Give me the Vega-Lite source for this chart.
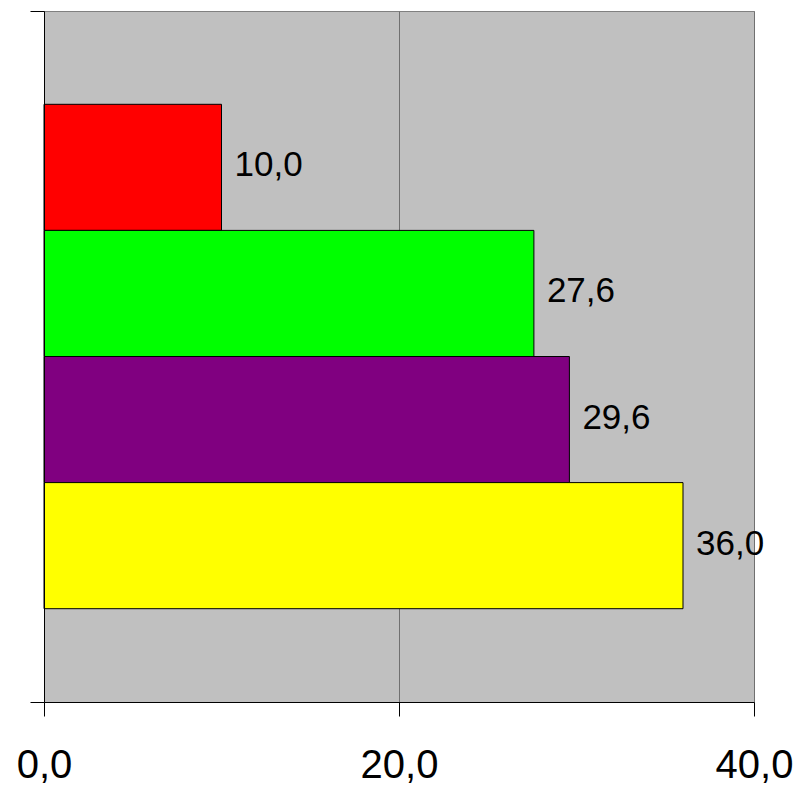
{
  "$schema": "https://vega.github.io/schema/vega-lite/v6.json",
  "width": 710,
  "height": 691,
  "autosize": "none",
  "padding": {"left": 44, "top": 11, "right": 42, "bottom": 84},
  "background": "white",
  "config": {
    "view": {"fill": "#C0C0C0", "stroke": "#808080", "strokeWidth": 1},
    "font": "Liberation Sans",
    "locale": {"number": {"decimal": ",", "thousands": ".", "grouping": [3], "currency": ["", " €"]}}
  },
  "data": {
    "values": [
      {"cat": "A", "series": "S1", "value": 10.0},
      {"cat": "A", "series": "S2", "value": 27.6},
      {"cat": "A", "series": "S3", "value": 29.6},
      {"cat": "A", "series": "S4", "value": 36.0}
    ]
  },
  "encoding": {
    "y": {
      "field": "cat", "type": "nominal",
      "scale": {"paddingInner": 0, "paddingOuter": 0},
      "axis": {"title": null, "labels": false, "tickBand": "extent", "tickSize": 14, "domainColor": "#000000", "tickColor": "#000000", "grid": false, "zindex": 1}
    },
    "yOffset": {
      "field": "series", "type": "nominal", "sort": ["S1", "S2", "S3", "S4"],
      "scale": {"paddingInner": 0, "paddingOuter": 0.74}
    },
    "x": {
      "field": "value", "type": "quantitative",
      "scale": {"domain": [0, 40], "nice": false},
      "axis": {
        "values": [0, 20, 40], "title": null, "format": ".1f",
        "labelFontSize": 40, "labelColor": "#000000", "labelPadding": 29,
        "labelFlush": false, "labelOverlap": false,
        "tickSize": 14, "tickColor": "#000000", "domainColor": "#000000",
        "grid": true, "gridColor": "#707070", "gridOpacity": 1, "zindex": 0
      }
    }
  },
  "layer": [
    {
      "mark": {"type": "bar", "stroke": "#000000", "strokeWidth": 1},
      "encoding": {
        "color": {
          "field": "series", "type": "nominal", "legend": null,
          "scale": {"domain": ["S1", "S2", "S3", "S4"], "range": ["#FF0000", "#00FF00", "#800080", "#FFFF00"]}
        }
      }
    },
    {
      "mark": {"type": "text", "align": "left", "baseline": "middle", "dx": 13, "dy": -2, "fontSize": 35, "color": "#000000"},
      "encoding": {
        "text": {"field": "value", "type": "quantitative", "format": ".1f"}
      }
    }
  ]
}
